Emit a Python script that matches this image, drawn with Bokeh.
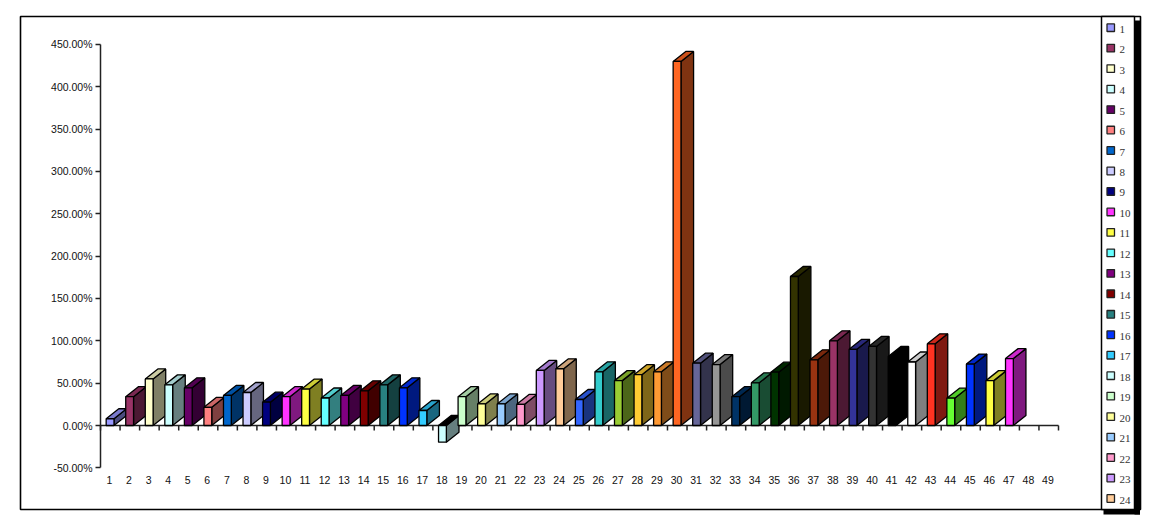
from bokeh.plotting import figure
from bokeh.core.properties import value
from bokeh.models import FixedTicker, LinearAxis, NumeralTickFormatter, Range1d
from bokeh.embed import file_html
from bokeh.resources import INLINE

categories = [str(i) for i in range(1, 50)]
values = [8, 34, 55, 48, 44.5, 21.5, 35.5, 39, 27.5, 34, 43, 32.5, 35.5, 41, 48, 44.5,
          17.7, -19.7, 34, 25.5, 25.5, 25, 65, 67, 30.7, 63.4, 53, 60, 63.4, 430,
          73.6, 72, 34, 50.4, 63, 176, 77.6, 100, 90, 93.4, 81.5, 75, 96.5, 32.3, 72.5, 53, 79]
colors = ["#9999FF", "#993366", "#FFFFCC", "#CCFFFF", "#660066", "#FF8080", "#0066CC", "#CCCCFF",
          "#000080", "#FF33FF", "#FFFF44", "#66FFFF", "#800080", "#800000", "#288080", "#0033FF",
          "#33CCFF", "#CCFFFF", "#CCFFCC", "#FFFF99", "#99CCFF", "#FF99CC", "#CC99FF", "#FFCC99",
          "#3366FF", "#33CCCC", "#99CC33", "#FFCC33", "#FF9933", "#FF6622", "#666699", "#969696",
          "#003366", "#339966", "#003300", "#333300", "#993311", "#993366", "#333399", "#333333",
          "#000000", "#FFFFFF", "#FF3322", "#66FF33", "#0033FF", "#FFFF44", "#FF33FF"]
y_ticks = [-0.5 + 0.5 * i for i in range(11)]
legend_count = 24

W, H = 1150, 528
X0_PX, X_STEP = 100.0, 19.551
Y0_PX, Y_STEP = 425.0, 84.67


def xd(px):
    return (px - X0_PX) / X_STEP


def yd(px):
    return (Y0_PX - px) / Y_STEP


BAR_OFFSET, BAR_WIDTH = 0.29, 0.40
DEPTH_X, DEPTH_Y = 0.645, 0.118


def shade(color, f):
    r, g, b = (int(color[i:i + 2], 16) for i in (1, 3, 5))
    return "#%02x%02x%02x" % (int(r * f), int(g * f), int(b * f))


fractions = [v / 100 for v in values]
lefts = [i + BAR_OFFSET for i in range(len(values))]
rights = [l + BAR_WIDTH for l in lefts]
bottoms = [min(v, 0) for v in fractions]
tops = [max(v, 0) for v in fractions]

side_x = [[r, r + DEPTH_X, r + DEPTH_X, r] for r in rights]
side_y = [[b, b + DEPTH_Y, t + DEPTH_Y, t] for b, t in zip(bottoms, tops)]
top_x = [[l, r, r + DEPTH_X, l + DEPTH_X] for l, r in zip(lefts, rights)]
top_y = [[t, t, t + DEPTH_Y, t + DEPTH_Y] for t in tops]
side_colors = [shade(c, 0.5) for c in colors]
top_colors = ["#000000" if v < 0 else shade(c, 0.8) for v, c in zip(values, colors)]

p = figure(width=W, height=H, output_backend="svg", toolbar_location=None,
           x_range=Range1d(xd(0), xd(W)), y_range=Range1d(yd(H), yd(0)),
           x_axis_type=None, y_axis_type=None,
           min_border=0, min_border_left=0, min_border_right=0, min_border_top=0, min_border_bottom=0,
           outline_line_color=None, background_fill_color="white", border_fill_color="white")
p.grid.visible = False

LINE = "#222222"
FONT = "Liberation Sans"

# outer frame, legend panel and its heavy shadow
p.quad(left=[xd(20)], right=[xd(1140)], top=[yd(16)], bottom=[yd(509)],
       fill_color=None, line_color="black", line_width=1.6)
p.quad(left=[xd(1134), xd(1103)], right=[xd(1139.5), xd(1139.5)], top=[yd(20), yd(509)],
       bottom=[yd(514), yd(514)], fill_color="black", line_color=None)
p.quad(left=[xd(1101)], right=[xd(1134)], top=[yd(16)], bottom=[yd(509)],
       fill_color="white", line_color="black", line_width=1.5)

yaxis = LinearAxis(ticker=FixedTicker(ticks=y_ticks), formatter=NumeralTickFormatter(format="0.00%"),
                   fixed_location=0, bounds=(y_ticks[0], y_ticks[-1]))
yaxis.axis_line_color = LINE
yaxis.axis_line_width = 1.5
yaxis.major_tick_line_color = LINE
yaxis.major_tick_line_width = 1.5
yaxis.major_tick_in = 0
yaxis.major_tick_out = 5
yaxis.minor_tick_line_color = None
yaxis.major_label_standoff = 3
yaxis.major_label_text_font = FONT
yaxis.major_label_text_font_size = "10.5px"
yaxis.major_label_text_color = "#111111"
p.add_layout(yaxis, "left")

label_ticks = [i + 0.46 for i in range(len(categories))]
xlabels = LinearAxis(ticker=FixedTicker(ticks=label_ticks), fixed_location=y_ticks[0])
xlabels.major_label_overrides = dict(zip(label_ticks, categories))
xlabels.axis_line_color = None
xlabels.major_tick_line_color = None
xlabels.minor_tick_line_color = None
xlabels.major_tick_in = 0
xlabels.major_tick_out = 0
xlabels.major_label_standoff = 8
xlabels.major_label_text_font = FONT
xlabels.major_label_text_font_size = "10.5px"
xlabels.major_label_text_color = "#111111"
p.add_layout(xlabels, "below")

# zero line with outward tick marks
tick_x = list(range(len(categories) + 1))
p.segment(x0=[tick_x[0]], y0=[0], x1=[tick_x[-1]], y1=[0], line_color=LINE, line_width=1.5)
p.segment(x0=tick_x, y0=[0] * len(tick_x), x1=tick_x, y1=[yd(Y0_PX + 5)] * len(tick_x),
          line_color=LINE, line_width=1.5)

p.patches(side_x, side_y, fill_color=side_colors, line_color="black", line_width=1.3)
p.patches(top_x, top_y, fill_color=top_colors, line_color="black", line_width=1.3)
p.quad(left=lefts, right=rights, top=tops, bottom=bottoms,
       fill_color=colors, line_color="black", line_width=1.3)

# legend panel: swatch and serif label per series
LEG_Y0, LEG_STEP = 27.2, 20.47
leg_labels = categories[:legend_count]
leg_colors = colors[:legend_count]
leg_y = [LEG_Y0 + i * LEG_STEP for i in range(legend_count)]
p.quad(left=[xd(1106.5)] * legend_count, right=[xd(1114)] * legend_count,
       top=[yd(y - 3.8) for y in leg_y], bottom=[yd(y + 3.8) for y in leg_y],
       fill_color=leg_colors, line_color="#222222", line_width=1.3)
p.text(x=[xd(1119)] * legend_count, y=[yd(y + 1.5) for y in leg_y], text=leg_labels,
       text_font=value("Liberation Serif"), text_font_size="11px", text_color="#333333",
       text_baseline="middle", text_align="left")

open("out.html", "w").write(file_html(p, INLINE))
